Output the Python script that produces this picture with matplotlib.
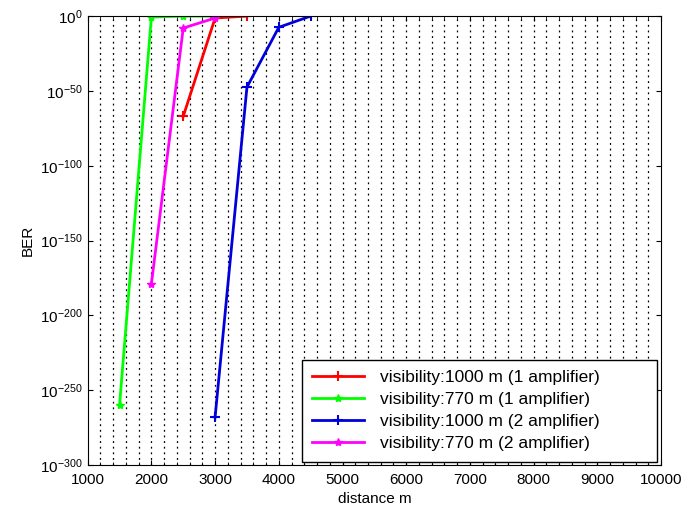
import numpy as np
import matplotlib
matplotlib.use("Agg")
import matplotlib.pyplot as plt
from matplotlib.ticker import FixedLocator, FuncFormatter

plt.rcParams['font.family'] = ['Liberation Sans', 'DejaVu Sans']
plt.rcParams['mathtext.fontset'] = 'custom'
plt.rcParams['mathtext.rm'] = 'Liberation Sans'
plt.rcParams['axes.unicode_minus'] = False

# data: distance (m) and BER exponent (BER = 10**exp)
red_x = [2500, 3000, 3500]
red_exp = [-67, -1.3, 0]
green_x = [1500, 2000, 2500, 3000]
green_exp = [-260, -0.7, 0, 0]
blue_x = [3000, 3500, 4000, 4500]
blue_exp = [-268, -47.5, -7.5, 0]
magenta_x = [2000, 2500, 3000]
magenta_exp = [-179, -8, -1.3]

labels = ['visibility:1000 m (1 amplifier)',
          'visibility:770 m (1 amplifier)',
          'visibility:1000 m (2 amplifier)',
          'visibility:770 m (2 amplifier)']

fig = plt.figure(figsize=(6.85, 5.19), dpi=100)
ax = fig.add_axes([0.128, 0.104, 0.837, 0.865])

ax.semilogy(red_x, 10.0 ** np.array(red_exp), color='#ff0000', lw=2, marker='+', ms=7, mew=1.5, label=labels[0])
ax.semilogy(green_x, 10.0 ** np.array(green_exp), color='#00ff00', lw=2, marker='*', ms=6, label=labels[1])
ax.semilogy(blue_x, 10.0 ** np.array(blue_exp), color='#0000dd', lw=2, marker='+', ms=7, mew=1.5, label=labels[2])
ax.semilogy(magenta_x, 10.0 ** np.array(magenta_exp), color='#ff00ff', lw=2, marker='*', ms=6, label=labels[3])

ax.set_xlim(1000, 10000)
ax.set_ylim(1e-300, 1)
ax.set_xticks(np.arange(1000, 10001, 1000))
ax.xaxis.set_minor_locator(FixedLocator(np.arange(1000, 10001, 200)))
ax.yaxis.set_major_locator(FixedLocator([10.0 ** e for e in range(-300, 1, 50)]))
ax.yaxis.set_minor_locator(FixedLocator([]))
ax.yaxis.set_major_formatter(FuncFormatter(lambda v, p: r'$\mathregular{10^{%d}}$' % round(np.log10(v))))

# vertical dotted grid
for gx in np.arange(1200, 10000, 200):
    ax.axvline(gx, color='black', ls=(0, (1.5, 3)), lw=0.9, zorder=0)

ax.tick_params(direction='in', which='both', top=True, right=True, labelsize=11)
ax.tick_params(axis='x', pad=6)
ax.tick_params(which='minor', length=2)
ax.set_xlabel('distance m', fontsize=11, labelpad=3)
ax.set_ylabel('BER', fontsize=11)

leg = ax.legend(loc='lower left', bbox_to_anchor=(0.373, 0.007, 0.62, 0.2), mode='expand',
                fontsize=12.5, fancybox=False, framealpha=1, edgecolor='black',
                handlelength=3, handletextpad=0.9, labelspacing=0.4, borderpad=0.6,
                borderaxespad=0)
leg.get_frame().set_linewidth(1.0)

fig.savefig('out.png', dpi=100)
